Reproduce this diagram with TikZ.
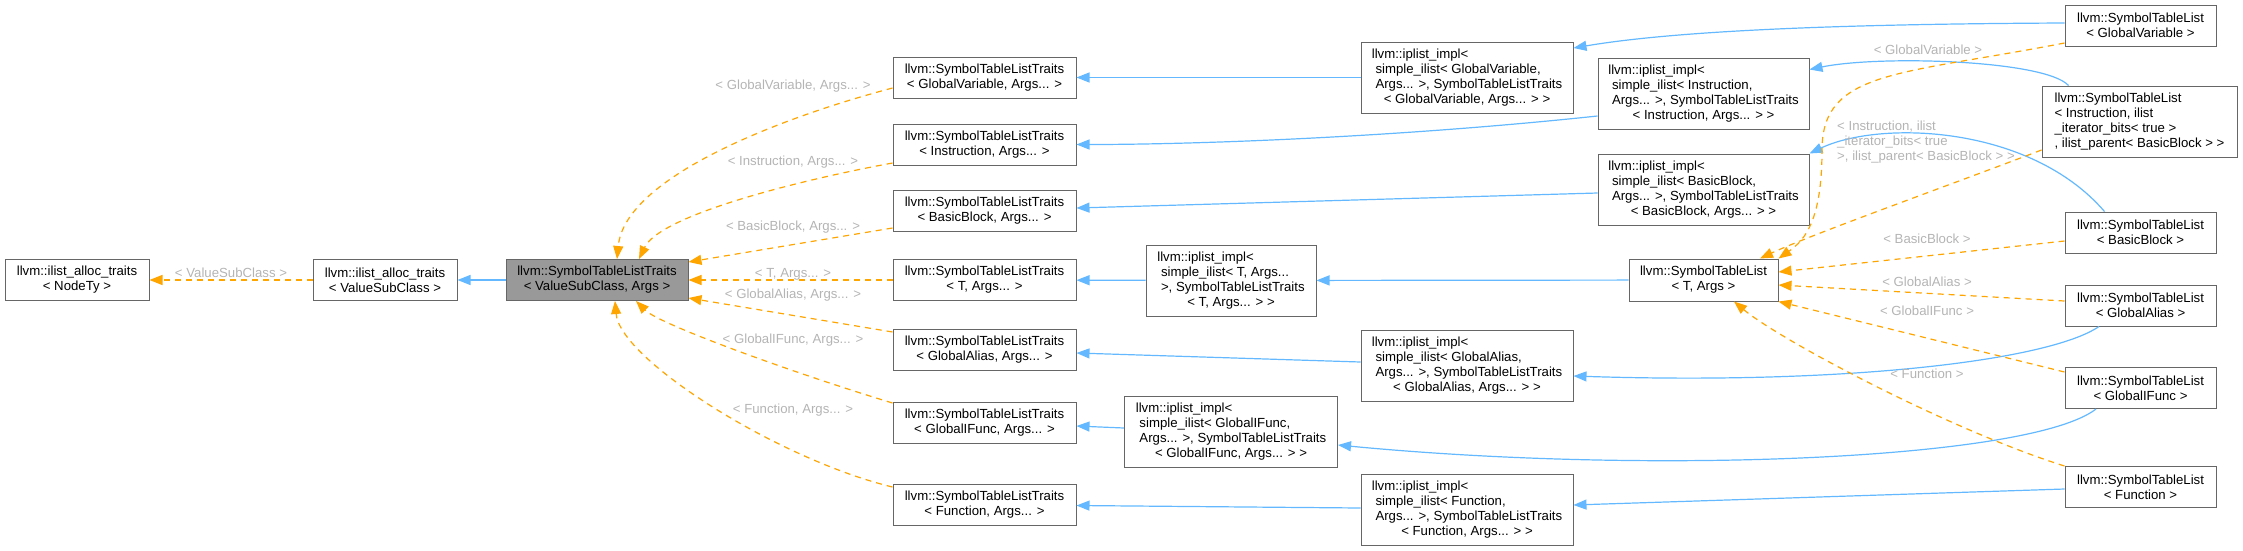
\documentclass[tikz,border=0pt]{standalone}
\usepackage{fontspec}
\setmainfont{Liberation Sans}
\usepackage{tikz}
\usetikzlibrary{arrows.meta}
\definecolor{edgeblue}{HTML}{63B8FF}
\definecolor{edgeorange}{HTML}{FFA500}
\definecolor{labelgray}{HTML}{B4B4B4}
\definecolor{boxline}{HTML}{666666}
\definecolor{basefill}{HTML}{999999}
\newcommand{\dxfont}{\fontsize{13.2}{15}\selectfont}
\newcommand{\implbox}[4]{\begin{tabular}{@{}l@{}}#1\\#2\\#3\\\multicolumn{1}{@{}c@{}}{#4}\end{tabular}}
\tikzset{
	>={Triangle[length=13pt,width=10pt]}, % filled heads, as doxygen draws them
	cls/.style = {rectangle, draw=boxline, line width=1pt, fill=white, align=center, inner sep=0pt, minimum height=41pt, font=\dxfont},
	impl/.style = {cls, minimum height=71pt}, % four text lines
	inherit/.style = {->, draw=edgeblue, line width=1.2pt},
	tmpl/.style = {->, draw=edgeorange, line width=1.2pt, dash pattern=on 6pt off 5pt},
	lbl/.style = {text=labelgray, font=\dxfont, inner sep=0pt}
}

\begin{document}
\begin{tikzpicture}[x=1pt,y=-1pt]
	\useasboundingbox (0,0) rectangle (2243,550);
	% left part
	\node[cls, minimum width=144pt] (nodety) at (77,280) {llvm::ilist\_alloc\_traits\\< NodeTy >};
	\node[cls, minimum width=144pt] (valsub) at (385,280) {llvm::ilist\_alloc\_traits\\< ValueSubClass >};
	\node[cls, fill=basefill, minimum width=182pt] (traits) at (597,280) {llvm::SymbolTableListTraits\\< ValueSubClass, Args >};
	% SymbolTableListTraits column
	\node[cls, minimum width=183pt] (tgv) at (984.5,77.5) {llvm::SymbolTableListTraits\\< GlobalVariable, Args... >};
	\node[cls, minimum width=183pt] (tin) at (984.5,144.5) {llvm::SymbolTableListTraits\\< Instruction, Args... >};
	\node[cls, minimum width=183pt] (tbb) at (984.5,211) {llvm::SymbolTableListTraits\\< BasicBlock, Args... >};
	\node[cls, minimum width=183pt] (tt) at (984.5,280) {llvm::SymbolTableListTraits\\< T, Args... >};
	\node[cls, minimum width=183pt] (tga) at (984.5,349.5) {llvm::SymbolTableListTraits\\< GlobalAlias, Args... >};
	\node[cls, minimum width=183pt] (tif) at (984.5,422.5) {llvm::SymbolTableListTraits\\< GlobalIFunc, Args... >};
	\node[cls, minimum width=183pt] (tfn) at (984.5,504.5) {llvm::SymbolTableListTraits\\< Function, Args... >};
	% iplist_impl boxes
	\node[impl, minimum width=212pt] (igv) at (1467,77.5) {\implbox{llvm::iplist\_impl<}{\ simple\_ilist< GlobalVariable,}{\ Args... >, SymbolTableListTraits}{< GlobalVariable, Args... > >}};
	\node[impl, minimum width=211pt] (iin) at (1703.5,93.5) {\implbox{llvm::iplist\_impl<}{\ simple\_ilist< Instruction,}{\ Args... >, SymbolTableListTraits}{< Instruction, Args... > >}};
	\node[impl, minimum width=211pt] (ibb) at (1703.5,189.5) {\implbox{llvm::iplist\_impl<}{\ simple\_ilist< BasicBlock,}{\ Args... >, SymbolTableListTraits}{< BasicBlock, Args... > >}};
	\node[impl, minimum width=170pt] (it) at (1231,280.5) {\implbox{llvm::iplist\_impl<}{\ simple\_ilist< T, Args...}{\ >, SymbolTableListTraits}{< T, Args... > >}};
	\node[impl, minimum width=212pt] (iga) at (1467,365.5) {\implbox{llvm::iplist\_impl<}{\ simple\_ilist< GlobalAlias,}{\ Args... >, SymbolTableListTraits}{< GlobalAlias, Args... > >}};
	\node[impl, minimum width=213pt] (iif) at (1231,432) {\implbox{llvm::iplist\_impl<}{\ simple\_ilist< GlobalIFunc,}{\ Args... >, SymbolTableListTraits}{< GlobalIFunc, Args... > >}};
	\node[impl, minimum width=212pt] (ifn) at (1467,509.5) {\implbox{llvm::iplist\_impl<}{\ simple\_ilist< Function,}{\ Args... >, SymbolTableListTraits}{< Function, Args... > >}};
	% SymbolTableList boxes
	\node[cls, minimum width=149pt, minimum height=42pt] (lt) at (1703.5,280) {llvm::SymbolTableList\\< T, Args >};
	\node[cls, minimum width=151pt] (lgv) at (2140.5,25.5) {llvm::SymbolTableList\\< GlobalVariable >};
	\node[impl, minimum width=195pt] (lin) at (2139.5,121.5) {\implbox{llvm::SymbolTableList}{< Instruction, ilist}{\_iterator\_bits< true >}{, ilist\_parent< BasicBlock > >}};
	\node[cls, minimum width=151pt] (lbb) at (2140.5,232.5) {llvm::SymbolTableList\\< BasicBlock >};
	\node[cls, minimum width=151pt] (lga) at (2140.5,305.5) {llvm::SymbolTableList\\< GlobalAlias >};
	\node[cls, minimum width=151pt] (lif) at (2140.5,388) {llvm::SymbolTableList\\< GlobalIFunc >};
	\node[cls, minimum width=151pt] (lfn) at (2140.5,487) {llvm::SymbolTableList\\< Function >};

	% inheritance
	\draw[inherit] (traits) -- (valsub);
	\draw[inherit] (igv) -- (tgv);
	\draw[inherit] ([yshift=-22.5pt]iin.west) .. controls (1400,137) and (1200,144.5) .. (tin.east);
	\draw[inherit] ([yshift=-3.5pt]ibb.west) -- ([yshift=3pt]tbb.east);
	\draw[inherit] (it) -- (tt);
	\draw[inherit] (lt) -- (it);
	\draw[inherit] ([yshift=3.5pt]iga.west) -- ([yshift=-3.5pt]tga.east);
	\draw[inherit] ([yshift=4pt]iif.west) -- ([yshift=-3.5pt]tif.east);
	\draw[inherit] ([yshift=1.5pt]ifn.west) -- ([yshift=-1pt]tfn.east);
	\draw[inherit] ([yshift=2.5pt]lgv.west) .. controls (1850,24) and (1680,30) .. ([yshift=29.5pt]igv.east);
	\draw[inherit] ([xshift=27pt]lin.north west) .. controls (2045,60) and (1880,55) .. ([yshift=-12pt]iin.north east);
	\draw[inherit] ([xshift=-36pt]lbb.north) .. controls (2030,125) and (1880,120) .. (ibb.north east);
	\draw[inherit] ([xshift=-41.5pt]lga.south) .. controls (2050,360) and (1850,385) .. ([yshift=-10.5pt]iga.east);
	\draw[inherit] ([xshift=-44.5pt]lif.south) .. controls (2030,460) and (1650,475) .. ([yshift=-13pt]iif.east);
	\draw[inherit] ([yshift=-2pt]lfn.west) -- ([yshift=4.5pt]ifn.east);

	% template instances
	\draw[tmpl] (valsub) -- node[lbl, yshift=7pt] (vslbl) {< ValueSubClass >} (nodety);
	\draw[tmpl] ([yshift=-10.5pt]tgv.west) .. controls (790,115) and (625,175) .. ([xshift=20pt]traits.north);
	\draw[tmpl] ([yshift=-18.5pt]tin.west) .. controls (800,180) and (660,215) .. ([xshift=42pt]traits.north);
	\draw[tmpl] ([yshift=-17pt]tbb.west) -- ([yshift=18pt]traits.east);
	\draw[tmpl] (tt) -- (traits);
	\draw[tmpl] ([yshift=17.5pt]tga.west) -- ([yshift=-18pt]traits.east);
	\draw[tmpl] ([yshift=19.5pt]tif.west) .. controls (800,375) and (660,325) .. ([xshift=39pt]traits.south);
	\draw[tmpl] ([yshift=17.5pt]tfn.west) .. controls (780,460) and (620,360) .. ([xshift=18pt]traits.south);
	\node[lbl] (tgvlbl) at (793,86) {< GlobalVariable, Args... >};
	\node[lbl] (tinlbl) at (793,162) {< Instruction, Args... >};
	\node[lbl] (tbblbl) at (793,227) {< BasicBlock, Args... >};
	\node[lbl] (ttlbl) at (793,274) {< T, Args... >};
	\node[lbl] (tgalbl) at (793,295) {< GlobalAlias, Args... >};
	\node[lbl] (tiflbl) at (793,340) {< GlobalIFunc, Args... >};
	\node[lbl] (tfnlbl) at (793,410) {< Function, Args... >};

	\draw[tmpl] ([yshift=-17.5pt]lgv.west) .. controls (1900,75) and (1822,70) .. (1822,150) .. controls (1822,220) and (1805,240) .. (lt.north east);
	\draw[tmpl] ([yshift=-28.5pt]lin.west) .. controls (1950,185) and (1810,235) .. ([xshift=-18.5pt]lt.north east);
	\draw[tmpl] ([yshift=-8.5pt]lbb.west) -- ([yshift=8pt]lt.east);
	\draw[tmpl] ([yshift=4.5pt]lga.west) -- ([yshift=-5pt]lt.east);
	\draw[tmpl] ([yshift=16pt]lif.west) -- (lt.south east);
	\draw[tmpl] (lfn.north west) .. controls (1950,430) and (1780,340) .. ([xshift=30.5pt]lt.south);
	\node[lbl] (lgvlbl) at (1928,50) {< GlobalVariable >};
	\node[lbl, align=left, anchor=west] (linlbl) at (1837,142) {< Instruction, ilist\\\_iterator\_bits< true\\>, ilist\_parent< BasicBlock > >};
	\node[lbl] (lbblbl) at (1927,239) {< BasicBlock >};
	\node[lbl] (lgalbl) at (1927,282) {< GlobalAlias >};
	\node[lbl] (liflbl) at (1927,311) {< GlobalIFunc >};
	\node[lbl] (lfnlbl) at (1927,374) {< Function >};
\end{tikzpicture}
\end{document}
